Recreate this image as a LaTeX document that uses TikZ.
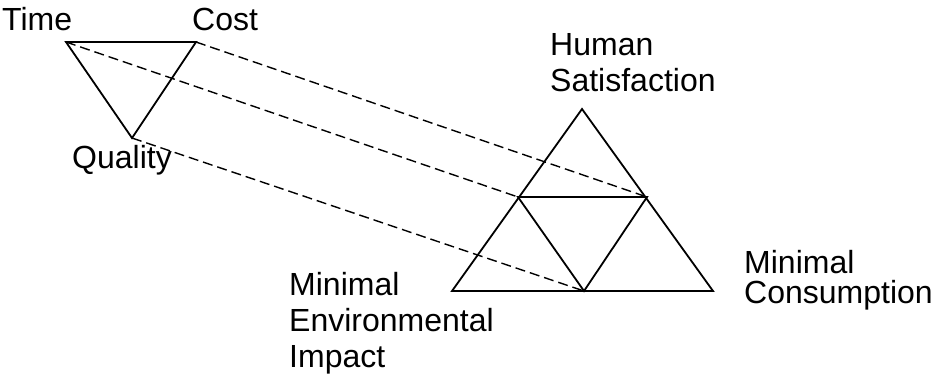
\documentclass[tikz,border=0pt]{standalone}
\usepackage{fontspec}
\setmainfont{Liberation Sans}
\begin{document}
\begin{tikzpicture}[x=1pt,y=-1pt,
  edge/.style={line width=1.8pt,line join=miter},
  link/.style={line width=1.4pt,dash pattern=on 10pt off 5pt},
  lbl/.style={anchor=base west,inner sep=0pt,font=\fontsize{32}{38}\selectfont}]
\useasboundingbox (0,0) rectangle (933,373);
% left triangle
\coordinate (time) at (66,42);
\coordinate (cost) at (196,42);
\coordinate (quality) at (132,138);
% right triangle
\coordinate (apex) at (582,109);
\coordinate (bl) at (452,291);
\coordinate (br) at (713,291);
\coordinate (ml) at (518,197);
\coordinate (mr) at (647,197);
\coordinate (bm) at (584,291);
\draw[edge] (time) -- (cost) -- (quality) -- cycle;
\draw[edge] (apex) -- (br) -- (bl) -- cycle;
\draw[edge] (ml) -- (mr) -- (bm) -- cycle;
\draw[link] (cost) -- (mr);
\draw[link] (time) -- (ml);
\draw[link] (quality) -- (bm);
% labels
\node[lbl] (tTime) at (2,30) {Time};
\node[lbl] (tCost) at (192,30) {Cost};
\node[lbl] (tQuality) at (72,168) {Quality};
\node[lbl] (tHuman) at (550,55) {Human};
\node[lbl] (tSat) at (550,91) {Satisfaction};
\node[lbl] (tMinC) at (744,273) {Minimal};
\node[lbl] (tCons) at (744,303) {Consumption};
\node[lbl] (tMinE) at (289,295) {Minimal};
\node[lbl] (tEnv) at (289,331) {Environmental};
\node[lbl] (tImp) at (289,367) {Impact};
\end{tikzpicture}
\end{document}
